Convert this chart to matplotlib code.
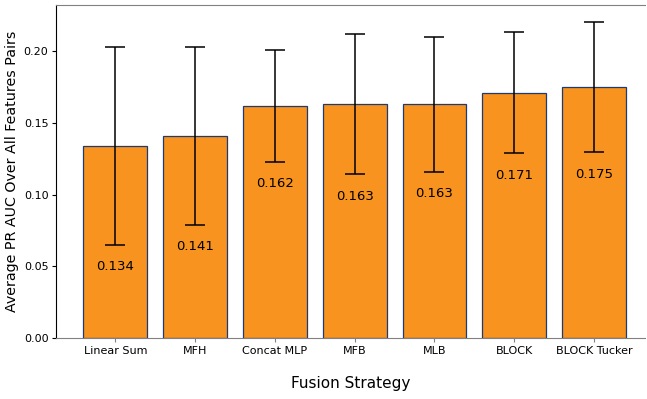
import matplotlib.pyplot as plt
import numpy as np

# 各融合策略的平均 PR AUC 及标准差
strategies = ['Linear Sum', 'MFH', 'Concat MLP', 'MFB', 'MLB', 'BLOCK', 'BLOCK Tucker']
mean_auc = [0.134, 0.141, 0.162, 0.163, 0.163, 0.171, 0.175]
std_auc = [0.069, 0.062, 0.039, 0.049, 0.047, 0.042, 0.0455]

fig = plt.figure(figsize=(6.47, 3.99), dpi=100)
ax = fig.add_axes([0.0866, 0.153, 0.9104, 0.834])

x = np.arange(len(strategies))
ax.bar(x, mean_auc, width=0.8, color='#F7931E', edgecolor='#1f3a6e', linewidth=0.9,
       yerr=std_auc, capsize=7, error_kw=dict(ecolor='black', elinewidth=1.1, capthick=1.1))

# 数值标签放在误差线下端下方
for xi, m, s in zip(x, mean_auc, std_auc):
    ax.text(xi, m - s - 0.0155, f'{m:.3f}', ha='center', va='center', fontsize=9.5)

ax.set_xticks(x)
ax.set_xticklabels(strategies, fontsize=8)
ax.tick_params(axis='y', labelsize=8, length=3, pad=2.5)
ax.tick_params(axis='x', length=3, pad=2.5)
ax.set_xlim(-0.743, 6.64)
ax.set_ylim(0, 0.232)

ax.set_xlabel('Fusion Strategy', fontsize=11, labelpad=15)
ax.set_ylabel('Average PR AUC Over All Features Pairs', fontsize=10.3, labelpad=3.5)

ax.spines['right'].set_visible(False)
ax.spines['top'].set_color('#808080')
ax.spines['bottom'].set_color('#808080')
ax.tick_params(axis='x', colors='#808080', labelcolor='black')

plt.savefig('out.png', dpi=100)
